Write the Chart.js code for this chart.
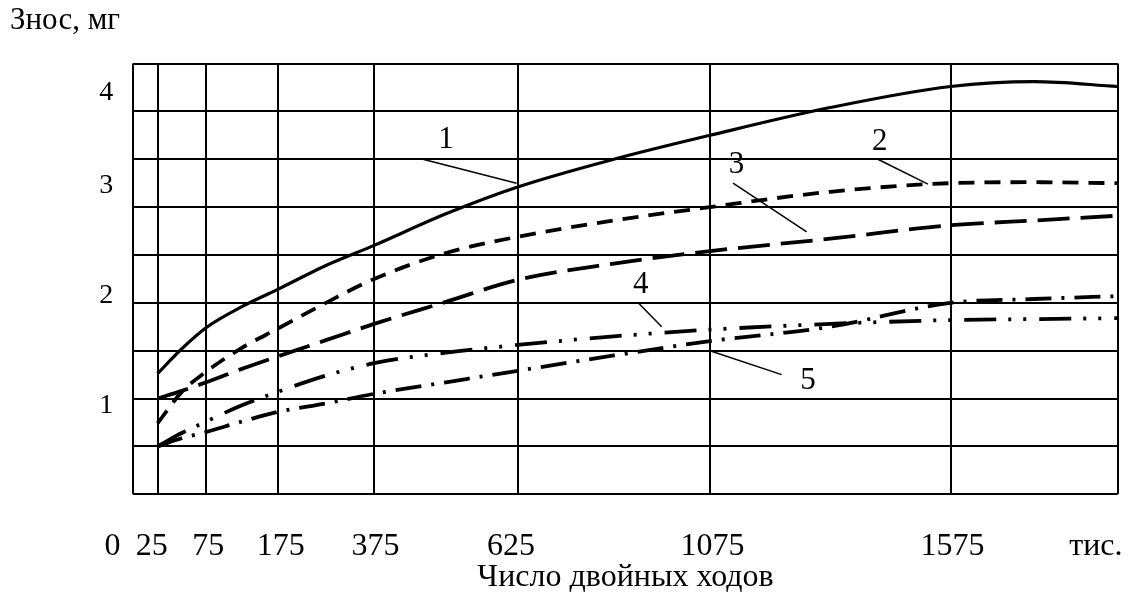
<!DOCTYPE html>
<html>
<head>
<meta charset="utf-8">
<script src="https://cdn.jsdelivr.net/npm/chart.js@4.4.1/dist/chart.umd.min.js"></script>
<style>
  html, body { margin: 0; padding: 0; background: #fff; }
  #wrap { width: 1132px; height: 601px; }
</style>
</head>
<body>
<div id="wrap"><canvas id="wear" width="1132" height="601"></canvas></div>
<script>
// number of double strokes (thousands) where the curves were read
const passes = [25, 50, 75, 125, 175, 275, 375, 500, 625, 850, 1075, 1325, 1575, 1750, 1925];

// wear, mg
const curve1 = [1.26, 1.52, 1.74, 1.96, 2.14, 2.39, 2.60, 2.93, 3.21, 3.50, 3.75, 4.04, 4.26, 4.31, 4.26];
const curve2 = [0.74, 1.07, 1.28, 1.53, 1.73, 2.00, 2.25, 2.52, 2.69, 2.86, 3.00, 3.16, 3.25, 3.26, 3.25];
const curve3 = [1.00, 1.08, 1.17, 1.31, 1.44, 1.61, 1.78, 2.01, 2.24, 2.41, 2.54, 2.67, 2.81, 2.86, 2.91];
const curve4 = [0.50, 0.64, 0.76, 0.93, 1.07, 1.24, 1.37, 1.48, 1.56, 1.65, 1.72, 1.78, 1.82, 1.83, 1.84];
const curve5 = [0.50, 0.585, 0.65, 0.76, 0.86, 0.95, 1.05, 1.17, 1.29, 1.45, 1.60, 1.75, 2.00, 2.04, 2.07];
const curveNames = ['1', '2', '3', '4', '5'];

// axes: grid stops and printed tick labels
const xGridValues = [0, 25, 75, 175, 375, 625, 1075, 1575, 1925];
const xTickValues = [0, 25, 75, 175, 375, 625, 1075, 1575, 1875];
const xTickLabels = ['0', '25', '75', '175', '375', '625', '1075', '1575', 'тис.'];
const yTickStops = [0, 1, 2, 3, 4, 4.5];
const yTickValues = [1, 2, 3, 4];
const yTickLabels = ['1', '2', '3', '4'];

// layout: where each stop sits along its axis (0..1 of the plot box)
const xGridFractions = [0, 0.0246, 0.0739, 0.1467, 0.2447, 0.3905, 0.5858, 0.8302, 1];
const xTickFractions = [-0.0211, 0.0187, 0.0762, 0.1498, 0.2460, 0.3837, 0.5884, 0.8322, 0.9778];
const yTickFractions = [0, 0.2061, 0.4615, 0.7168, 0.9332, 1];

// curve tags with leader lines, in data units
const curveTags = [
    { at: [500, 3.70], from: [460, 3.50], to: [623, 3.25] },
    { at: [1428, 3.68], from: [1424, 3.50], to: [1528, 3.24] },
    { at: [1130, 3.44], from: [1123, 3.25], to: [1276, 2.74] },
    { at: [913, 2.19], from: [907, 2.00], to: [962, 1.75] },
    { at: [1279, 1.19], from: [1075, 1.50], to: [1224, 1.25] }
];

const SERIF = 'Liberation Serif';

// the printed x axis is not uniform: piecewise linear between stops
class PiecewiseScale extends Chart.LinearScale {
    static id = 'piecewise';
    static defaults = {};
    determineDataLimits() {
        const stops = this.options.stops;
        this.min = stops[0];
        this.max = stops[stops.length - 1];
    }
    buildTicks() {
        return this.options.tickValues.map(value => ({ value }));
    }
    getPixelForValue(value) {
        const s = this.options.stops, f = this.options.fractions;
        let i = 0;
        while (i < s.length - 2 && value > s[i + 1]) i++;
        const t = (value - s[i]) / (s[i + 1] - s[i]);
        return this.getPixelForDecimal(f[i] + t * (f[i + 1] - f[i]));
    }
    getValueForPixel(pixel) {
        const s = this.options.stops, f = this.options.fractions;
        const d = this.getDecimalForPixel(pixel);
        let i = 0;
        while (i < f.length - 2 && d > f[i + 1]) i++;
        return s[i] + (d - f[i]) / (f[i + 1] - f[i]) * (s[i + 1] - s[i]);
    }
}
Chart.register(PiecewiseScale);

function noPad(scale) {
    scale.paddingLeft = 0;
    scale.paddingRight = 0;
    scale.paddingTop = 0;
    scale.paddingBottom = 0;
}

const tagPlugin = {
    id: 'curveTags',
    afterDatasetsDraw(chart) {
        const { ctx } = chart;
        const x = chart.scales.x, y = chart.scales.y;
        ctx.save();
        ctx.strokeStyle = '#000';
        ctx.fillStyle = '#000';
        ctx.lineWidth = 1.5;
        ctx.font = '31px "' + SERIF + '"';
        ctx.textAlign = 'center';
        ctx.textBaseline = 'middle';
        curveTags.forEach((t, k) => {
            ctx.beginPath();
            ctx.moveTo(x.getPixelForValue(t.from[0]), y.getPixelForValue(t.from[1]));
            ctx.lineTo(x.getPixelForValue(t.to[0]), y.getPixelForValue(t.to[1]));
            ctx.stroke();
            ctx.fillText(curveNames[k], x.getPixelForValue(t.at[0]), y.getPixelForValue(t.at[1]));
        });
        ctx.restore();
    }
};

const series = [curve1, curve2, curve3, curve4, curve5];
const dashes = [[], [16, 10], [32, 11], [32, 12, 3, 12, 3, 13], [26, 10, 3, 10]];
const widths = [3.2, 3.8, 3.8, 3.8, 3.8];

new Chart(document.getElementById('wear'), {
    type: 'line',
    data: {
        datasets: series.map((vals, k) => ({
            label: curveNames[k],
            data: passes.map((p, i) => ({ x: p, y: vals[i] })),
            borderColor: '#000',
            borderWidth: widths[k],
            borderDash: dashes[k],
            borderCapStyle: 'butt',
            pointRadius: 0,
            fill: false,
            cubicInterpolationMode: 'monotone',
            xAxisID: 'x',
            yAxisID: 'y'
        }))
    },
    options: {
        responsive: false,
        animation: false,
        devicePixelRatio: 1,
        layout: { padding: { left: 10, right: 14.3, top: 0, bottom: 0 } },
        plugins: {
            legend: { display: false },
            tooltip: { enabled: false },
            title: {
                display: true,
                text: 'Знос, мг',
                align: 'start',
                color: '#000',
                font: { family: SERIF, size: 31, weight: 'normal' },
                padding: { top: 2.5, bottom: 23.8 }
            }
        },
        scales: {
            x: {
                type: 'piecewise',
                position: 'bottom',
                weight: 0,
                stops: xGridValues,
                fractions: xGridFractions,
                tickValues: xGridValues,
                ticks: { display: false, autoSkip: false, callback: () => '' },
                grid: { color: '#000', lineWidth: 2, drawTicks: false },
                border: { display: false },
                afterFit: s => { s.height = 0; noPad(s); }
            },
            xTicks: {
                type: 'piecewise',
                position: 'bottom',
                weight: 1,
                stops: xTickValues,
                fractions: xTickFractions,
                tickValues: xTickValues,
                grid: { display: false, drawTicks: false },
                border: { display: false },
                ticks: {
                    autoSkip: false,
                    maxRotation: 0,
                    padding: 33.5,
                    color: '#000',
                    font: { family: SERIF, size: 32 },
                    callback: (v, i) => xTickLabels[i]
                },
                title: {
                    display: true,
                    text: 'Число двойных ходов',
                    color: '#000',
                    font: { family: SERIF, size: 32 },
                    padding: { top: 0, bottom: 4.6 }
                },
                afterFit: s => { s.height = 106.7; noPad(s); }
            },
            y: {
                type: 'linear',
                position: 'left',
                weight: 0,
                min: 0,
                max: 4.5,
                ticks: { display: false, stepSize: 0.5 },
                grid: { color: '#000', lineWidth: 2, drawTicks: false },
                border: { display: false },
                afterFit: s => { s.width = 0; noPad(s); }
            },
            yTicks: {
                type: 'piecewise',
                position: 'left',
                weight: 1,
                stops: yTickStops,
                fractions: yTickFractions,
                tickValues: yTickValues,
                grid: { display: false, drawTicks: false },
                border: { display: false },
                ticks: {
                    autoSkip: false,
                    padding: 20,
                    color: '#000',
                    font: { family: SERIF, size: 28 },
                    callback: (v, i) => yTickLabels[i]
                },
                afterFit: s => { s.width = 123.3; noPad(s); }
            }
        }
    },
    plugins: [tagPlugin]
});
</script>
</body>
</html>
